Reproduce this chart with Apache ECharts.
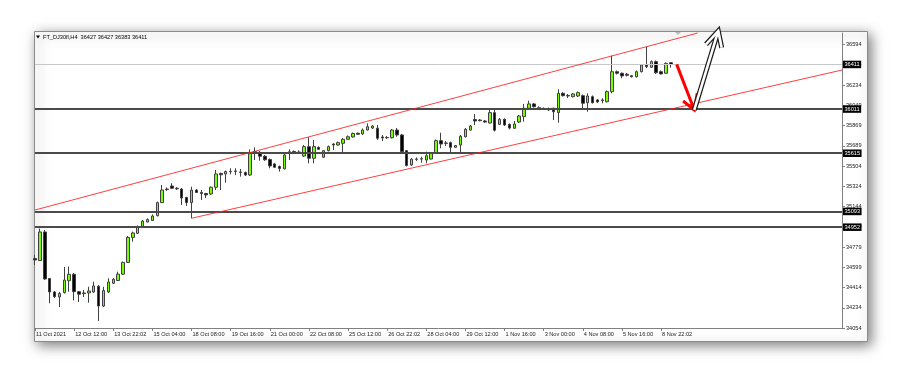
<!DOCTYPE html>
<html><head><meta charset="utf-8">
<script src="https://cdn.jsdelivr.net/npm/echarts@6/dist/echarts.min.js"></script>
<style>html,body{margin:0;padding:0;background:#fff;}#c{width:900px;height:374px;}</style>
</head><body><div id="c"></div>
<script>
const header = 'FT_DJ30fl,H4  36427 36427 36383 36411';
const openP = [34671,34653,34909,34492,34371,34326,34365,34472,34530,34374,
34362,34362,34371,34422,34245,34371,34449,34474,34531,34636,
34860,34897,34958,34999,35012,35055,35172,35294,35321,35301,
35294,35218,35172,35285,35263,35254,35250,35310,35433,35429,
35450,35451,35447,35442,35420,35629,35620,35588,35559,35519,
35496,35476,35613,35631,35626,35590,35674,35570,35668,35579,
35638,35698,35689,35704,35740,35761,35794,35788,35823,35841,
35839,35761,35756,35754,35823,35779,35638,35510,35563,35566,
35554,35563,35617,35728,35707,35710,35668,35689,35763,35823,
35918,35913,35904,35886,35979,35874,35919,35874,35839,35895,
35943,36018,36057,36023,36018,36016,36018,35979,36152,36133,
36122,36128,36131,36068,36122,36093,36093,36077,36167,36346,
36332,36323,36310,36301,36346,36406,36386,36436,36346,36332,
36427];
const closeP = [34658,34909,34488,34371,34329,34357,34478,34530,34374,34351,
34357,34380,34425,34245,34383,34461,34485,34531,34636,34860,
34900,34958,35007,35021,35052,35172,35285,35290,35301,35296,
35214,35173,35285,35263,35254,35241,35310,35429,35422,35451,
35453,35456,35442,35420,35615,35620,35588,35557,35501,35489,
35478,35599,35628,35624,35617,35674,35570,35674,35650,35638,
35674,35689,35710,35740,35763,35792,35785,35823,35853,35859,
35749,35752,35754,35823,35779,35629,35505,35561,35561,35563,
35593,35617,35728,35698,35704,35668,35684,35767,35830,35859,
35904,35907,35895,35979,35821,35919,35868,35841,35877,35949,
36018,36057,36032,36009,36012,36003,35987,36152,36131,36128,
36146,36158,36063,36128,36068,36075,36088,36167,36346,36332,
36308,36314,36301,36346,36406,36391,36436,36337,36326,36421,
36411];
const lowP = [34613,34649,34479,34270,34317,34236,34357,34374,34295,34281,
34326,34275,34362,34111,34236,34362,34443,34470,34523,34631,
34822,34891,34954,34994,35008,35048,35169,35276,35294,35285,
35151,35142,35032,35259,35196,35214,35241,35285,35285,35351,
35426,35420,35405,35411,35411,35554,35548,35546,35480,35483,
35450,35469,35554,35613,35608,35581,35525,35525,35644,35572,
35631,35644,35683,35620,35734,35756,35779,35779,35819,35832,
35734,35725,35743,35747,35763,35622,35496,35501,35546,35530,
35525,35559,35613,35659,35680,35608,35662,35620,35756,35819,
35868,35900,35886,35882,35810,35868,35859,35828,35832,35886,
35898,36012,36025,36003,36003,35994,35913,35889,36124,36110,
36115,36119,36003,35987,36061,36066,36063,36070,36152,36321,
36287,36303,36294,36294,36339,36377,36379,36326,36321,36326,
36383];
const highP = [34703,34940,34927,34496,34380,34371,34595,34599,34541,34380,
34389,34418,34463,34434,34418,34494,34496,34553,34644,34873,
34912,34967,35016,35030,35066,35181,35330,35308,35346,35312,
35303,35225,35315,35294,35285,35259,35317,35465,35442,35460,
35480,35480,35474,35451,35649,35667,35635,35599,35568,35528,
35505,35608,35650,35640,35640,35689,35758,35734,35676,35644,
35684,35704,35720,35752,35774,35801,35801,35837,35883,35868,
35868,35779,35770,35832,35841,35788,35644,35572,35577,35584,
35629,35626,35738,35799,35725,35719,35689,35779,35841,35868,
35967,35922,35913,36018,36018,35931,35927,35882,35904,35958,
36057,36086,36066,36034,36025,36025,36025,36188,36164,36146,
36155,36169,36142,36152,36133,36101,36108,36178,36490,36357,
36339,36335,36317,36357,36415,36570,36447,36447,36357,36429,
36427];
const xTickLabels = ['11 Oct 2021','12 Oct 12:00','13 Oct 22:02','15 Oct 04:00','18 Oct 08:00','19 Oct 16:00','21 Oct 00:00','22 Oct 08:00','25 Oct 12:00','26 Oct 22:02','28 Oct 04:00','29 Oct 12:00','1 Nov 16:00','3 Nov 00:00','4 Nov 08:00','5 Nov 16:00','8 Nov 22:02'];
const yTickLabels = ['34054','34234','34414','34599','34779','34959','35144','35324','35504','35689','35869','36049','36234','36414','36594'];
const levels = [36011, 35615, 35093, 34952];
const lastPrice = 36411;
const upperChannel = [[0, 35106], [135.5, 36693]];
const lowerChannel = [[32, 35032], [165, 36361]];
const redArrowShaft = [[131.2, 36412], [134.8, 36003]];
const redArrowHead = [[132.5, 36083], [134.8, 36003], [135.4, 36152]];
const whiteArrowShaft = [[134.8, 36003], [139.7, 36711]];
const whiteArrowHead = [[137.2, 36592], [139.7, 36711], [140.4, 36561]];

const SLOTS = 166, BARS_PER_LABEL = 8;
const PMIN = 34048, PMAX = 36693, LABEL_STEP = 181.43;
const FONT = 'Liberation Sans';

const slots = Array.from({length: SLOTS}, (_, i) => String(i));
const candles = openP.map((o, i) => [o, closeP[i], lowP[i], highP[i]]);
const showTick = (i) => i % BARS_PER_LABEL === 0 && (i / BARS_PER_LABEL) < xTickLabels.length;

const chart = echarts.init(document.getElementById('c'), null, {renderer: 'canvas'});
const lvlLabel = {show: true, position: 'end', distance: 1, formatter: (p) => String(p.value),
  backgroundColor: '#000', color: '#fff', fontSize: 5.6, fontFamily: FONT, padding: [1, 1.5, 0.5, 1.5]};

chart.setOption({
  animation: false,
  backgroundColor: '#fff',
  textStyle: {fontFamily: FONT},
  title: {text: header, left: 43, top: 34, padding: 0,
    textStyle: {fontSize: 5.6, fontWeight: 'normal', color: '#000', fontFamily: FONT}},
  graphic: {elements: [
    {type: 'rect', z: -10, silent: true, shape: {x: 34.5, y: 31.5, width: 833, height: 310},
      style: {fill: '#fff', stroke: '#8a8a8a', lineWidth: 1, shadowBlur: 12, shadowColor: 'rgba(0,0,0,0.5)', shadowOffsetX: 3, shadowOffsetY: 3}},
    {type: 'polygon', z: 10, silent: true, shape: {points: [[36, 35.5], [40, 35.5], [38, 38.5]]}, style: {fill: '#000'}},
    {type: 'polygon', z: 10, silent: true, shape: {points: [[675, 32], [681, 32], [678, 35]]}, style: {fill: '#bbb'}}
  ]},
  grid: {left: 35, right: 58, top: 33, bottom: 46, containLabel: false, outerBoundsMode: 'none'},
  xAxis: {type: 'category', data: slots, boundaryGap: false,
    axisLine: {show: true, lineStyle: {color: '#808080', width: 1}},
    axisTick: {show: true, interval: (i) => showTick(i), length: 3, lineStyle: {color: '#808080'}},
    axisLabel: {show: true, interval: (i) => showTick(i), formatter: (v, i) => showTick(i) ? xTickLabels[i / BARS_PER_LABEL] : '',
      align: 'left', margin: 3, fontSize: 5.6, color: '#222', fontFamily: FONT, padding: [0, 0, 0, 1]},
    splitLine: {show: false}},
  yAxis: [
    {type: 'value', min: PMIN, max: PMAX, position: 'right', scale: true,
      axisLine: {show: true, lineStyle: {color: '#808080'}}, axisTick: {show: false},
      axisLabel: {show: false}, splitLine: {show: false}},
    {type: 'value', min: 0, max: (PMAX - PMIN) / LABEL_STEP, interval: 1, position: 'right',
      axisLine: {show: false}, axisTick: {show: true, length: 3, lineStyle: {color: '#808080'}},
      axisLabel: {show: true, showMaxLabel: false, margin: 4, fontSize: 5.6, color: '#222', fontFamily: FONT,
        formatter: (v) => (Math.abs(v - Math.round(v)) < 1e-6 && yTickLabels[Math.round(v)]) ? yTickLabels[Math.round(v)] : ''},
      splitLine: {show: false}}
  ],
  series: [
    {type: 'candlestick', xAxisIndex: 0, yAxisIndex: 0, data: candles, barWidth: 3, z: 3,
      itemStyle: {color: '#7cfc00', color0: '#000', borderColor: '#404040', borderColor0: '#404040', borderWidth: 1},
      emphasis: {disabled: true},
      markLine: {silent: true, symbol: ['none', 'none'], animation: false, emphasis: {disabled: true}, precision: 0,
        data: [
          {yAxis: lastPrice, lineStyle: {color: '#c8c8c8', width: 1, type: 'solid'}, label: lvlLabel},
          ...levels.map(v => ({yAxis: v, lineStyle: {color: '#4a4a4a', width: 2, type: 'solid'}, label: lvlLabel}))
        ]}},
    {type: 'custom', coordinateSystem: 'cartesian2d', xAxisIndex: 0, yAxisIndex: 0, silent: true, z: 6, clip: false,
      data: [[0, PMIN]],
      renderItem: (params, api) => {
        const pt = (q) => {
          const a = api.coord([0, q[1]]), b = api.coord([1, q[1]]);
          return [a[0] + q[0] * (b[0] - a[0]), a[1]];
        };
        const line = (pts, stroke, w) => ({type: 'polyline', shape: {points: pts.map(pt)},
          style: {stroke: stroke, lineWidth: w, fill: null, lineJoin: 'miter', lineCap: 'butt'}});
        return {type: 'group', children: [
          line(upperChannel, 'rgba(255,30,30,0.85)', 1),
          line(lowerChannel, 'rgba(255,30,30,0.85)', 1),
          line(redArrowShaft, '#ff0000', 3),
          line(redArrowHead, '#ff0000', 3),
          line(whiteArrowShaft, '#1a1a1a', 5),
          line(whiteArrowHead, '#1a1a1a', 5),
          line(whiteArrowShaft, '#ffffff', 2.6),
          line(whiteArrowHead, '#ffffff', 2.6)
        ]};
      }}
  ]
});
</script></body></html>
